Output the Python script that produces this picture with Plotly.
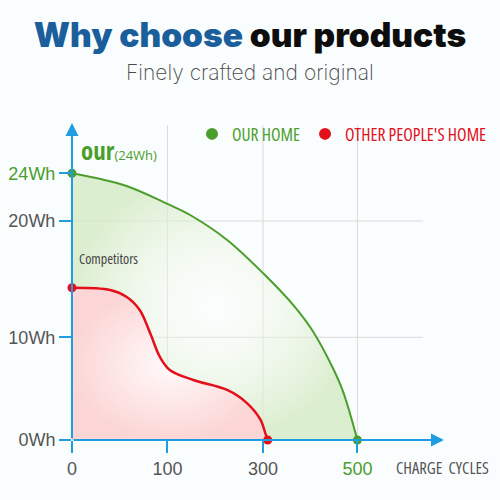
import numpy as np
import plotly.graph_objects as go

# ---- data ----
tick_cycles = [0, 100, 300, 500]
tick_labels = ["0", "100", "300", "<span style='color:#4a9e2c'>500</span>"]
wh_ticks = [0, 10, 20, 24]
wh_labels = ["0Wh", "10Wh", "20Wh", "<span style='color:#4a9e2c'>24Wh</span>"]
grid_wh = [10, 20]

our_cycles = [0, 57, 100, 151, 225, 302, 366, 404, 448, 470, 500]
our_wh = [24, 22.94, 21.43, 20.42, 18.37, 15.44, 12.69, 10.63, 7.01, 4.67, 0]

comp_cycles = [0, 40, 57, 71, 82, 92, 105, 154, 225, 267, 295, 305, 310]
comp_wh = [14.26, 14.07, 13.49, 12.35, 10.34, 8.11, 6.82, 5.84, 4.87, 3.57, 1.95, 0.65, 0]

# ---- the chart's own (uneven) scales: value stops -> display units ----
x_scale_stops = [0, 95.4, 191, 285.4]      # display positions of tick_cycles
y_scale_stops = [0, 102.7, 219, 266.7]     # display positions of wh_ticks
X_MAX, Y_MAX = 373, 318

GREEN = "#4a9e2c"
RED = "#e3101c"
BLUE = "#1e9ee0"
GRAY = "#555555"


def sx(c):
    return np.interp(c, tick_cycles, x_scale_stops)


def sy(w):
    return np.interp(w, wh_ticks, y_scale_stops)


ox, oy = sx(our_cycles), sy(our_wh)
cx, cy = sx(comp_cycles), sy(comp_wh)

fig = go.Figure()

fig.add_trace(go.Scatter(
    x=ox, y=oy, mode="lines", line=dict(color=GREEN, width=2, shape="spline", smoothing=1),
    fill="tozeroy",
    fillgradient=dict(type="radial", colorscale=[[0, "rgba(252,254,250,0.2)"], [1, "rgba(212,234,196,0.8)"]]),
    showlegend=False, hoverinfo="skip", cliponaxis=False))

fig.add_trace(go.Scatter(
    x=cx, y=cy, mode="lines", line=dict(color=RED, width=2.5, shape="spline", smoothing=1),
    fill="tozeroy",
    fillgradient=dict(type="radial", colorscale=[[0, "rgba(255,250,250,1)"], [1, "rgba(252,214,214,1)"]]),
    showlegend=False, hoverinfo="skip", cliponaxis=False))

fig.add_trace(go.Scatter(
    x=[ox[0], ox[-1]], y=[oy[0], oy[-1]], mode="markers",
    marker=dict(color=GREEN, size=9), showlegend=False, cliponaxis=False))
fig.add_trace(go.Scatter(
    x=[cx[0], cx[-1]], y=[cy[0], cy[-1]], mode="markers",
    marker=dict(color=RED, size=9), showlegend=False, cliponaxis=False))

NARROW = "font-stretch:75%"
# legend entries
fig.add_trace(go.Scatter(x=[None], y=[None], mode="markers", marker=dict(color=GREEN, size=11),
                         name=f"<span style='color:{GREEN};{NARROW}'>OUR HOME</span>"))
fig.add_trace(go.Scatter(x=[None], y=[None], mode="markers", marker=dict(color=RED, size=11),
                         name=f"<span style='color:{RED};{NARROW}'>OTHER PEOPLE'S HOME</span>"))

shapes = []
for p in sx(tick_cycles[1:]):
    shapes.append(dict(type="line", xref="x", yref="y", x0=p, x1=p, y0=0, y1=315,
                       line=dict(color="#d9d9d9", width=1), layer="below"))
for w in sy(grid_wh):
    shapes.append(dict(type="line", xref="x", yref="y", x0=0, x1=351, y0=w, y1=w,
                       line=dict(color="#d9d9d9", width=1), layer="below"))

annotations = [
    dict(x=X_MAX - 1, y=0, ax=0, ay=0, xref="x", yref="y", axref="x", ayref="y", text="",
         showarrow=True, arrowhead=2, arrowsize=1.3, arrowwidth=2, arrowcolor=BLUE),
    dict(x=0, y=Y_MAX - 1, ax=0, ay=0, xref="x", yref="y", axref="x", ayref="y", text="",
         showarrow=True, arrowhead=2, arrowsize=1.3, arrowwidth=2, arrowcolor=BLUE),
    dict(x=178 / X_MAX, y=(440 - 72) / Y_MAX, xref="paper", yref="paper", text="Finely crafted and original",
         showarrow=False, xanchor="center", yanchor="middle",
         font=dict(family="Inter, Lato", size=21, weight=200, color="#4a4a4a")),
    dict(x=7 / X_MAX, y=290 / Y_MAX, xref="paper", yref="paper", xanchor="left", yanchor="middle", showarrow=False,
         text=f"<b><span style='font-size:25px;{NARROW}'>our</span></b><span style='font-size:13px'>(24Wh)</span>",
         font=dict(family="Open Sans", color=GREEN)),
    dict(x=5 / X_MAX, y=182 / Y_MAX, xref="paper", yref="paper", xanchor="left", yanchor="middle", showarrow=False,
         text=f"<span style='{NARROW}'>Competitors</span>",
         font=dict(family="Open Sans", size=14, color="#444444")),
    dict(x=322 / X_MAX, y=-27 / Y_MAX, xref="paper", yref="paper", xanchor="left", yanchor="middle", showarrow=False,
         text=f"<span style='{NARROW}'>CHARGE  CYCLES</span>",
         font=dict(family="Open Sans", size=16.5, color="#555555")),
]

fig.update_layout(
    width=500, height=500,
    margin=dict(l=72, r=55, t=122, b=60, autoexpand=False),
    paper_bgcolor="#fafdfd", plot_bgcolor="rgba(0,0,0,0)",
    title=dict(text="<span style='color:#1a5e9c'>Why choose</span> our products",
               x=0.5, xanchor="center", y=1 - 35 / 500, yanchor="middle",
               font=dict(family="Inter, Liberation Sans", size=33.5, weight=900, color="#0d0d0d")),
    xaxis=dict(range=[0, X_MAX], tickvals=sx(tick_cycles), ticktext=tick_labels, automargin=False,
               showgrid=False, zeroline=False, showline=False,
               ticks="outside", ticklen=12, tickcolor=BLUE, tickwidth=1.5,
               tickfont=dict(family="Liberation Sans", size=18, color=GRAY)),
    yaxis=dict(range=[0, Y_MAX], tickvals=sy(wh_ticks), ticktext=wh_labels, automargin=False,
               showgrid=False, zeroline=False, showline=False,
               ticks="outside", ticklen=12, tickcolor=BLUE, tickwidth=1.5,
               tickfont=dict(family="Liberation Sans", size=18, color=GRAY)),
    legend=dict(orientation="h", xref="container", yref="container", x=192 / 500, y=1 - 134 / 500,
                xanchor="left", yanchor="middle",
                bgcolor="rgba(0,0,0,0)", font=dict(family="Open Sans", size=17.5),
                itemsizing="constant"),
    shapes=shapes, annotations=annotations,
    showlegend=True,
)

fig.write_html("out.html")
